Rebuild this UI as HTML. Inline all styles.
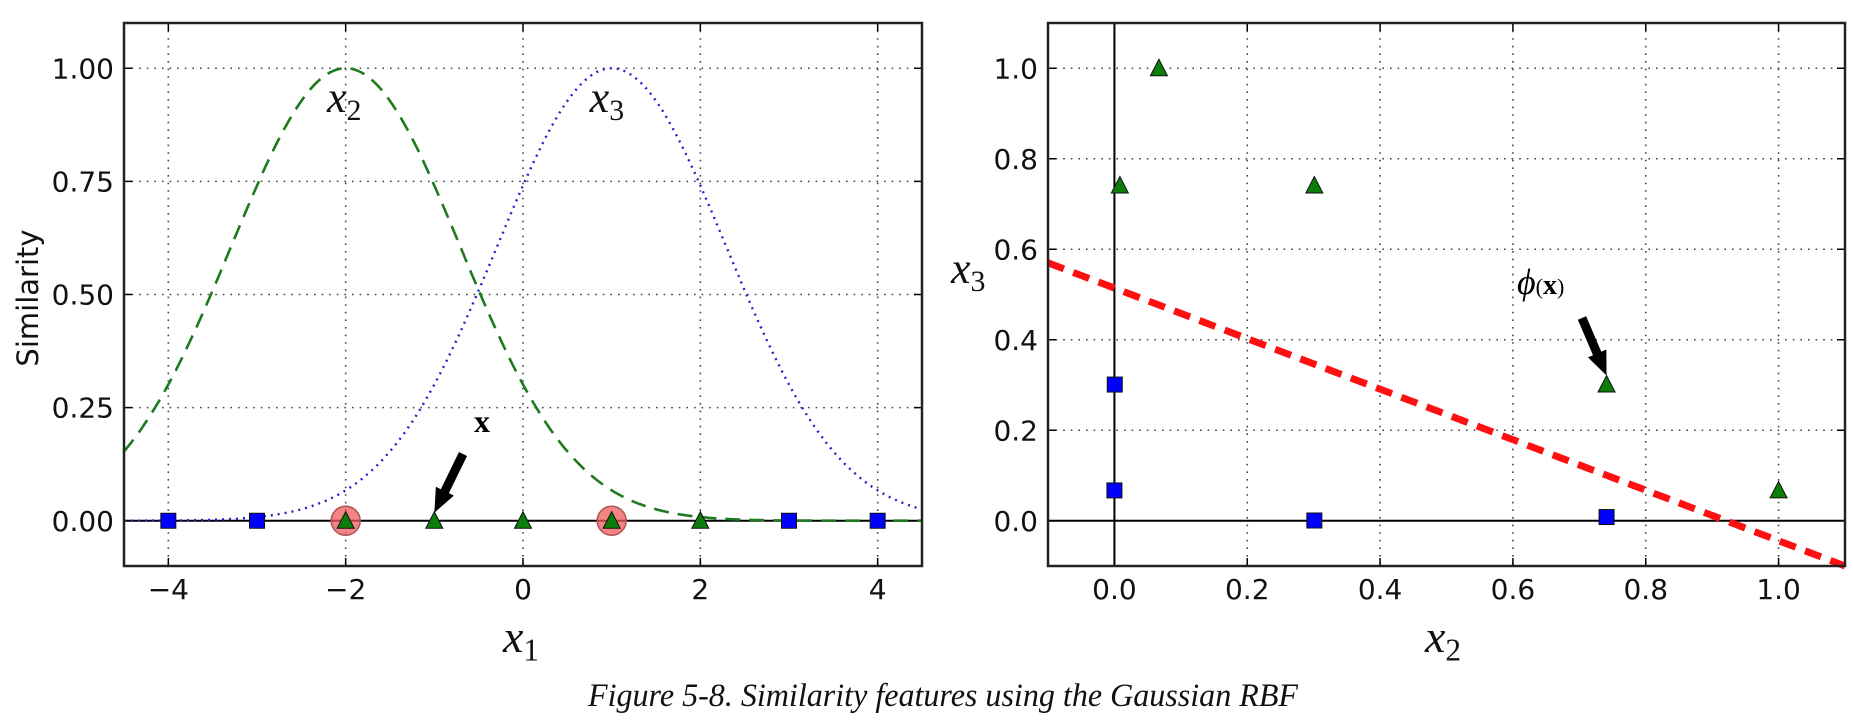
<!DOCTYPE html>
<html><head><meta charset="utf-8">
<style>
html,body{margin:0;padding:0;background:#fff;}
svg{display:block;}
text{font-family:"DejaVu Sans","Liberation Sans",sans-serif;}
.math{font-family:"Liberation Serif","DejaVu Serif",serif;font-style:italic;}
</style></head>
<body>
<svg id="fig" width="1853" height="722" viewBox="0 0 1853 722" xmlns="http://www.w3.org/2000/svg"></svg>
<script>
// ---- data ----
const x1Values = [-4, -3, -2, -1, 0, 1, 2, 3, 4];
const classLabels = [0, 0, 1, 1, 1, 1, 1, 0, 0];
const landmarks = [-2, 1];
const gammaValue = [0.3];
const x2Values = [0.301, 0.741, 1.0, 0.741, 0.301, 0.067, 0.0082, 0.00055, 0.00002];
const x3Values = [0.00055, 0.0082, 0.067, 0.301, 0.741, 1.0, 0.741, 0.301, 0.067];
const boundaryX = [-0.1, 1.1];
const boundaryY = [0.57, -0.10];
const leftXTicks = [-4, -2, 0, 2, 4];
const leftXTickLabels = ["\u22124", "\u22122", "0", "2", "4"];
const leftYTicks = [0, 0.25, 0.5, 0.75, 1.0];
const leftYTickLabels = ["0.00", "0.25", "0.50", "0.75", "1.00"];
const rightXTicks = [0, 0.2, 0.4, 0.6, 0.8, 1.0];
const rightXTickLabels = ["0.0", "0.2", "0.4", "0.6", "0.8", "1.0"];
const rightYTicks = [0, 0.2, 0.4, 0.6, 0.8, 1.0];
const rightYTickLabels = ["0.0", "0.2", "0.4", "0.6", "0.8", "1.0"];

const NS = "http://www.w3.org/2000/svg";
const svg = document.getElementById("fig");
function mk(tag, attrs, parent) {
  const e = document.createElementNS(NS, tag);
  for (const k in attrs) e.setAttribute(k, attrs[k]);
  (parent || svg).appendChild(e);
  return e;
}
const L = {x0:124, x1:922, y0:23, y1:566, xmin:-4.5, xmax:4.5, ymin:-0.1, ymax:1.1};
const R = {x0:1048, x1:1845, y0:23, y1:566, xmin:-0.1, xmax:1.1, ymin:-0.1, ymax:1.1};
function sx(a, v) { return a.x0 + (v - a.xmin) / (a.xmax - a.xmin) * (a.x1 - a.x0); }
function sy(a, v) { return a.y1 - (v - a.ymin) / (a.ymax - a.ymin) * (a.y1 - a.y0); }

function drawAxes(a, xt, xtl, yt, ytl, name) {
  const g = mk("g", {});
  
  
  const grid = mk("g", {stroke:"#444", "stroke-width":1.6, "stroke-dasharray":"1.6 6"}, g);
  
  
  xt.forEach(v => mk("line", {x1:sx(a,v), x2:sx(a,v), y1:a.y0, y2:a.y1}, grid));
  yt.forEach(v => mk("line", {x1:a.x0, x2:a.x1, y1:sy(a,v), y2:sy(a,v)}, grid));
  xt.forEach((v, i) => {
    mk("line", {x1:sx(a,v), x2:sx(a,v), y1:a.y1, y2:a.y1-8, stroke:"#000", "stroke-width":1.5}, g);
    mk("line", {x1:sx(a,v), x2:sx(a,v), y1:a.y0, y2:a.y0+8, stroke:"#000", "stroke-width":1.5}, g);
    const t = mk("text", {x:sx(a,v), y:a.y1+33, "text-anchor":"middle", "font-size":28, fill:"#111"}, g);
    t.textContent = xtl[i];
    
    
  });
  yt.forEach((v, i) => {
    mk("line", {x1:a.x0, x2:a.x0+8, y1:sy(a,v), y2:sy(a,v), stroke:"#000", "stroke-width":1.5}, g);
    mk("line", {x1:a.x1, x2:a.x1-8, y1:sy(a,v), y2:sy(a,v), stroke:"#000", "stroke-width":1.5}, g);
    const t = mk("text", {x:a.x0-10, y:sy(a,v)+10, "text-anchor":"end", "font-size":28, fill:"#111"}, g);
    t.textContent = ytl[i];
    
    
  });
  return g;
}
function frame(a, name) {
  const r = mk("rect", {x:a.x0, y:a.y0, width:a.x1-a.x0, height:a.y1-a.y0, fill:"none", stroke:"#222", "stroke-width":2.5});
  
  
}
function square(x, y, name) {
  const r = mk("rect", {x:x-7.5, y:y-7.5, width:15, height:15, fill:"#0000ff", stroke:"#111", "stroke-width":1});
  
  
}
function triangle(x, y, name) {
  const p = mk("polygon", {points:`${x},${y-9} ${x-8.5},${y+7.5} ${x+8.5},${y+7.5}`, fill:"#0a7d0a", stroke:"#111", "stroke-width":1});
  
  
}
function arrow(tx, ty, hx, hy, name) {
  const dx = hx - tx, dy = hy - ty, len = Math.hypot(dx, dy);
  const ux = dx/len, uy = dy/len, px = -uy, py = ux;
  const hl = 24, hw = 10, sw = 4.5;
  const bx = hx - ux*hl, by = hy - uy*hl;
  const pts = [
    [tx+px*sw, ty+py*sw], [bx+px*sw, by+py*sw], [bx+px*hw, by+py*hw], [hx, hy],
    [bx-px*hw, by-py*hw], [bx-px*sw, by-py*sw], [tx-px*sw, ty-py*sw]
  ].map(p => p.join(",")).join(" ");
  const a = mk("polygon", {points:pts, fill:"#000"});
  
  
}
function mathLabel(x, y, main, sub, size, name, anchor) {
  const t = mk("text", {x:x, y:y, "font-size":size, class:"math", fill:"#111", "text-anchor":anchor||"start"});
  const s1 = mk("tspan", {}, t); s1.textContent = main;
  const s2 = mk("tspan", {"font-size":size*0.68, "font-style":"normal", dy:size*0.18}, t); s2.textContent = sub;
  
  
  return t;
}

// ---- left plot ----
drawAxes(L, leftXTicks, leftXTickLabels, leftYTicks, leftYTickLabels, "left");
mk("line", {x1:L.x0, x2:L.x1, y1:sy(L,0), y2:sy(L,0), stroke:"#000", "stroke-width":2});
const curveStyles = [
  {stroke:"#1f7a1f", "stroke-width":2.6, "stroke-dasharray":"15 9", name:"gaussian-x2-curve"},
  {stroke:"#2222cc", "stroke-width":2.4, "stroke-dasharray":"2 5", name:"gaussian-x3-curve"}
];
landmarks.forEach((lm, k) => {
  let d = "";
  for (let i = 0; i <= 400; i++) {
    const xv = L.xmin + (L.xmax - L.xmin) * i / 400;
    const yv = Math.exp(-gammaValue[0] * (xv - lm) * (xv - lm));
    d += (i ? "L" : "M") + sx(L,xv).toFixed(1) + "," + sy(L,yv).toFixed(1);
  }
  const st = curveStyles[k];
  const p = mk("path", {d:d, fill:"none", stroke:st.stroke, "stroke-width":st["stroke-width"], "stroke-dasharray":st["stroke-dasharray"]});
  
  
});
landmarks.forEach(lm => {
  const c = mk("circle", {cx:sx(L,lm), cy:sy(L,0), r:14.5, fill:"rgba(240,90,90,0.75)", stroke:"#a55", "stroke-width":1.5});
  
  
});
x1Values.forEach((v, i) => {
  if (classLabels[i] === 0) square(sx(L,v), sy(L,0), 'left-square-point');
  else triangle(sx(L,v), sy(L,0), 'left-triangle-point');
});
frame(L, "left");
mathLabel(327, 112, "x", "2", 44, "x2-curve-label");
mathLabel(sx(L,1)-22, 112, "x", "3", 44, "x3-curve-label");
arrow(463, 454, sx(L,-1), sy(L,0)-8, "x-annotation-arrow");
const xb = mk("text", {x:482, y:432, "font-size":32, "font-weight":"bold", "text-anchor":"middle"});
xb.setAttribute("style", "font-family:'Liberation Serif',serif;font-style:normal");
xb.textContent = "x";


const yl = mk("text", {x:0, y:0, "font-size":29, "text-anchor":"middle", transform:"translate(38,298) rotate(-90)", fill:"#111"});
yl.textContent = "Similarity";


mathLabel(503, 652, "x", "1", 46, "x-axis-title-x1");

// ---- right plot ----
drawAxes(R, rightXTicks, rightXTickLabels, rightYTicks, rightYTickLabels, "right");
mk("line", {x1:R.x0, x2:R.x1, y1:sy(R,0), y2:sy(R,0), stroke:"#000", "stroke-width":2});
mk("line", {x1:sx(R,0), x2:sx(R,0), y1:R.y0, y2:R.y1, stroke:"#000", "stroke-width":2});
const bl = mk("line", {x1:sx(R,boundaryX[0]), y1:sy(R,boundaryY[0]), x2:sx(R,boundaryX[1]), y2:sy(R,boundaryY[1]), stroke:"#ff1010", "stroke-width":7, "stroke-dasharray":"17 10"});


x1Values.forEach((v, i) => {
  if (classLabels[i] === 0) square(sx(R,x2Values[i]), sy(R,x3Values[i]), 'right-square-point');
  else triangle(sx(R,x2Values[i]), sy(R,x3Values[i]), 'right-triangle-point');
});
frame(R, "right");
arrow(1582, 318, sx(R,x2Values[3]), sy(R,x3Values[3])-9, "phi-annotation-arrow");
const phi = mk("text", {x:1517, y:294, "font-size":36, class:"math"});
const ph1 = mk("tspan", {}, phi); ph1.textContent = "\u03d5";
const ph2 = mk("tspan", {"font-size":22, "font-style":"normal"}, phi); ph2.textContent = "(";
const ph3 = mk("tspan", {"font-size":28, "font-style":"normal", "font-weight":"bold"}, phi); ph3.textContent = "x";
const ph4 = mk("tspan", {"font-size":22, "font-style":"normal"}, phi); ph4.textContent = ")";


mathLabel(951, 283, "x", "3", 44, "y-axis-title-x3");
mathLabel(1425, 652, "x", "2", 46, "x-axis-title-x2");

// caption
const cap = mk("text", {x:588, y:706, "font-size":33, "font-style":"italic", fill:"#111", textLength:710, lengthAdjust:"spacingAndGlyphs"});
cap.setAttribute("style", "font-family:'Liberation Serif',serif");
cap.textContent = "Figure 5-8. Similarity features using the Gaussian RBF";


</script>
</body></html>
